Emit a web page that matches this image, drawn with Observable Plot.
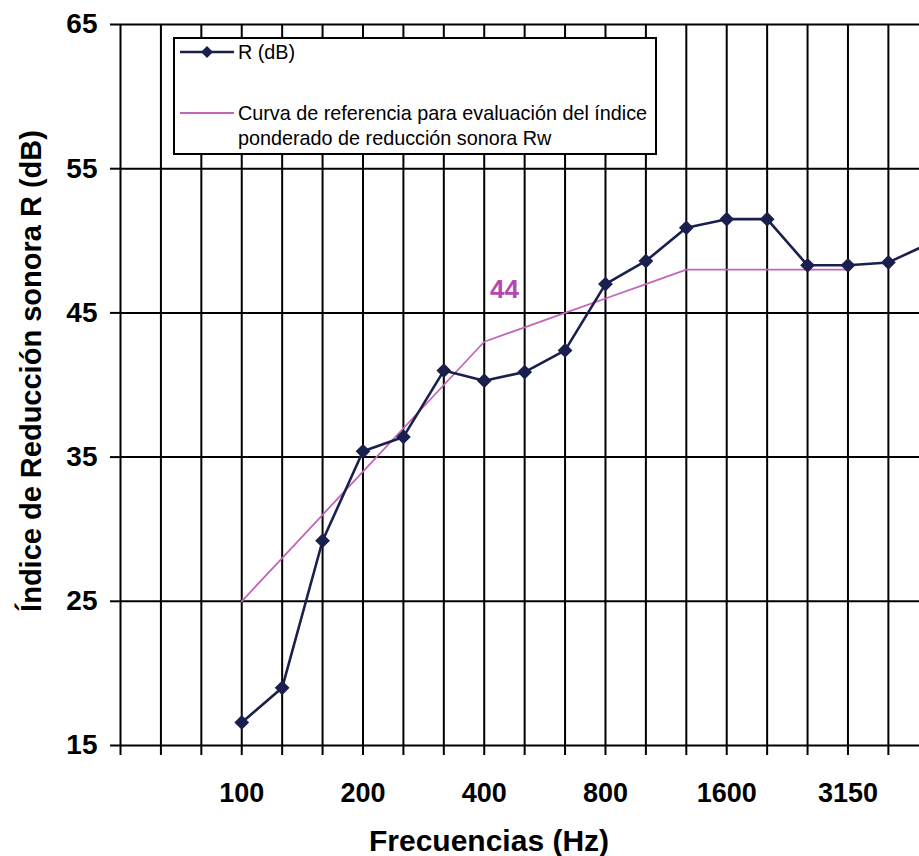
<!DOCTYPE html>
<html>
<head>
<meta charset="utf-8">
<script src="https://cdn.jsdelivr.net/npm/d3@7"></script>
<script src="https://cdn.jsdelivr.net/npm/@observablehq/plot@0.6"></script>
<style>
  html, body { margin: 0; padding: 0; background: #ffffff; }
  #wrap { position: relative; width: 919px; height: 856px; overflow: hidden; font-family: "Liberation Sans", Arial, sans-serif; }
  #legend { position: absolute; left: 173px; top: 37px; width: 480px; height: 114px; border: 2px solid #000; background: #fff; }
  #legend .item { position: absolute; left: 5px; display: flex; align-items: flex-start; font-size: 19.8px; line-height: 25px; color: #000; }
  #legend svg { flex: none; margin-top: 1px; }
</style>
</head>
<body>
<div id="wrap"><div id="legend"></div></div>
<script>
// Third-octave band centre frequencies (Hz), one grid column each
const freqs = [50, 63, 80, 100, 125, 160, 200, 250, 315, 400, 500, 630, 800, 1000, 1250, 1600, 2000, 2500, 3150, 4000, 5000];
// Frequencies shown as tick labels
const labelFreqs = [100, 200, 400, 800, 1600, 3150];
// Measured sound reduction index R (dB), 100 Hz .. 5000 Hz
const measFreqs = [100, 125, 160, 200, 250, 315, 400, 500, 630, 800, 1000, 1250, 1600, 2000, 2500, 3150, 4000, 5000];
const R = [16.6, 19.0, 29.2, 35.4, 36.4, 41.0, 40.3, 40.9, 42.4, 47.0, 48.6, 50.9, 51.5, 51.5, 48.3, 48.3, 48.5, 49.8];
// Shifted reference curve (ISO 717-1), 100 Hz .. 3150 Hz
const refFreqs = [100, 125, 160, 200, 250, 315, 400, 500, 630, 800, 1000, 1250, 1600, 2000, 2500, 3150];
const refCurve = [25, 28, 31, 34, 37, 40, 43, 44, 45, 46, 47, 48, 48, 48, 48, 48];
const Rw = 44;
const yTicks = [15, 25, 35, 45, 55, 65];
const seriesNames = ["R (dB)", "Curva de referencia para evaluación del índice ponderado de reducción sonora Rw"];
const colR = "#1b1f4d";
const colRef = "#c466b8";
const colLabel = "#b348b0";

const idx = f => freqs.indexOf(f);
const measured = measFreqs.map((f, i) => ({i: idx(f), v: R[i]}));
const reference = refFreqs.map((f, i) => ({i: idx(f), v: refCurve[i]}));
const xTicks = d3.range(0, 20);
const font = "'Liberation Sans', Arial, sans-serif";

const chart = Plot.plot({
  width: 919,
  height: 856,
  marginLeft: 120,
  marginRight: 0,
  marginTop: 24,
  marginBottom: 111,
  style: {fontFamily: font, background: "transparent", color: "#000"},
  x: {type: "linear", domain: [0, 19.77]},
  y: {type: "linear", domain: [15, 65]},
  marks: [
    Plot.gridX(xTicks, {stroke: "#000", strokeOpacity: 1, strokeWidth: 2}),
    Plot.gridY(yTicks, {stroke: "#000", strokeOpacity: 1, strokeWidth: 2}),
    Plot.axisX(xTicks, {
      tickSize: 10, tickPadding: 27, strokeWidth: 2, color: "#000",
      fontSize: 27, fontWeight: "bold", label: null,
      tickFormat: i => labelFreqs.includes(freqs[i]) ? String(freqs[i]) : ""
    }),
    Plot.axisY(yTicks, {
      tickSize: 10, tickPadding: 13, strokeWidth: 2, color: "#000",
      fontSize: 28, fontWeight: "bold", label: null
    }),
    Plot.line(reference, {x: "i", y: "v", stroke: colRef, strokeWidth: 1.8, clip: true}),
    Plot.line(measured, {x: "i", y: "v", stroke: colR, strokeWidth: 2.6, clip: true}),
    Plot.dot(measured, {x: "i", y: "v", symbol: "diamond2", r: 5.7, fill: colR, stroke: colR, clip: true}),
    Plot.text([String(Rw)], {x: idx(500) - 0.5, y: Rw + 2, lineAnchor: "bottom", fontSize: 26, fontWeight: "bold", fill: colLabel}),
    Plot.text(["Índice de Reducción sonora R (dB)"], {frameAnchor: "left", textAnchor: "middle", lineAnchor: "middle", rotate: -90, dx: -89, dy: -14, fontSize: 29, fontWeight: "bold", fill: "#000"}),
    Plot.text(["Frecuencias (Hz)"], {frameAnchor: "bottom", dx: -31, dy: 105, lineAnchor: "bottom", fontSize: 30, fontWeight: "bold", fill: "#000"})
  ]
});
document.getElementById("wrap").prepend(chart);

// Legend (overlay inside the plot area, as in the original)
const legend = document.getElementById("legend");
const items = [
  {name: seriesNames[0], color: colR, width: 2.6, marker: true, top: 1},
  {name: seriesNames[1], color: colRef, width: 1.8, marker: false, top: 62}
];
items.forEach(it => {
  const div = document.createElement("div");
  div.className = "item";
  div.style.top = it.top + "px";
  const ns = "http://www.w3.org/2000/svg";
  const svg = document.createElementNS(ns, "svg");
  svg.setAttribute("width", 58); svg.setAttribute("height", 22);
  const ln = document.createElementNS(ns, "line");
  ln.setAttribute("x1", 0); ln.setAttribute("x2", 54); ln.setAttribute("y1", 11); ln.setAttribute("y2", 11);
  ln.setAttribute("stroke", it.color); ln.setAttribute("stroke-width", it.width);
  svg.appendChild(ln);
  if (it.marker) {
    const p = document.createElementNS(ns, "path");
    p.setAttribute("d", "M27,5L33,11L27,17L21,11Z");
    p.setAttribute("fill", it.color);
    svg.appendChild(p);
  }
  div.appendChild(svg);
  const t = document.createElement("span");
  t.style.width = "420px";
  t.textContent = it.name;
  div.appendChild(t);
  legend.appendChild(div);
});
</script>
</body>
</html>
